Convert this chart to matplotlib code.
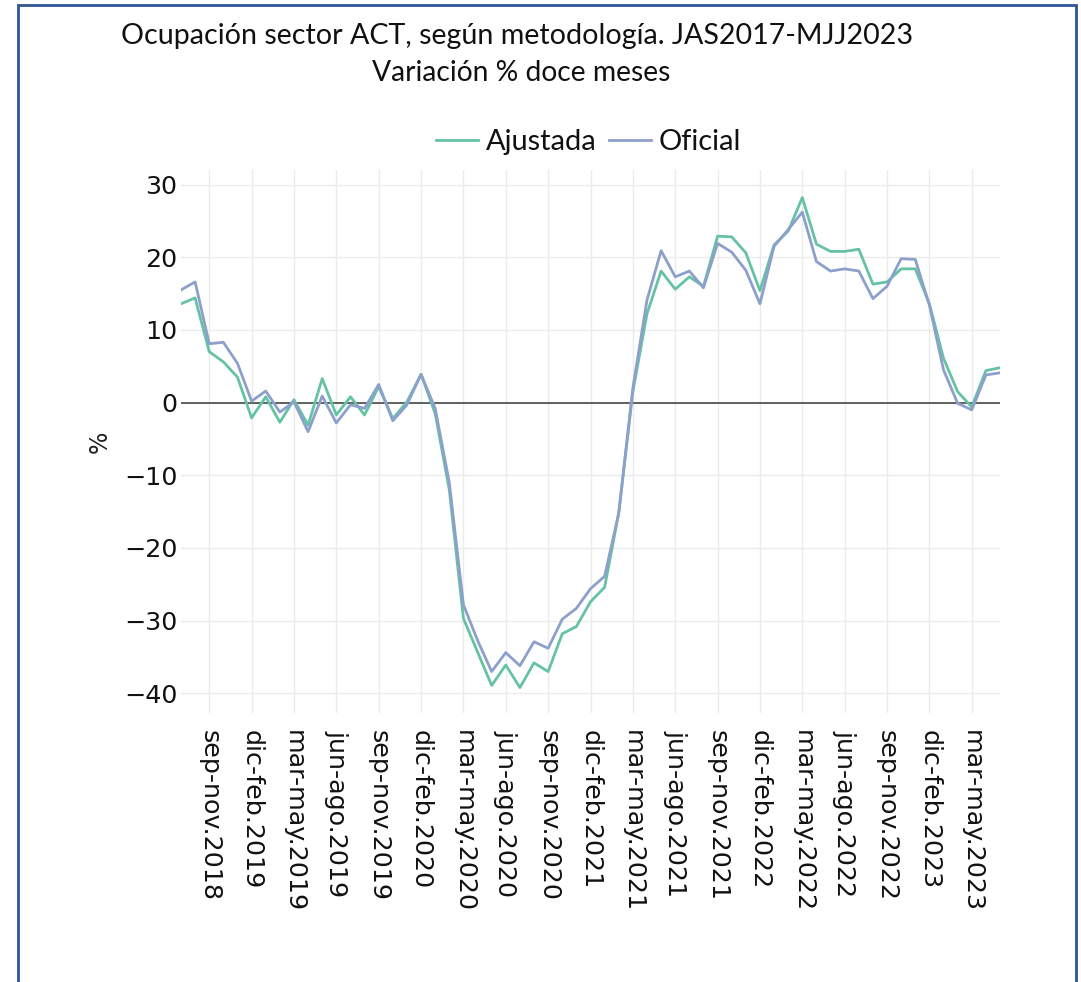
import matplotlib
matplotlib.use("Agg")
import matplotlib.pyplot as plt
import matplotlib.patches as patches
import numpy as np

# ---- data ----
month_abbr = ['ene', 'feb', 'mar', 'abr', 'may', 'jun', 'jul', 'ago', 'sep', 'oct', 'nov', 'dic']
start_month = 6      # jul
start_year = 2018
n_points = 59        # jul-sep.2018 ... may-jul.2023

ajustada = [13.6, 14.4, 7.0, 5.6, 3.5, -2.1, 0.8, -2.7, 0.4, -3.1,
            3.3, -1.7, 0.8, -1.7, 2.2, -2.2, 0.1, 3.9, -1.5, -12.0,
            -29.7, -34.3, -38.9, -36.1, -39.2, -35.8, -37.0, -31.8, -30.8, -27.4,
            -25.4, -15.2, 1.5, 12.2, 18.1, 15.6, 17.3, 16.0, 22.9, 22.8,
            20.6, 15.4, 21.7, 23.6, 28.2, 21.8, 20.8, 20.8, 21.1, 16.3,
            16.6, 18.4, 18.4, 13.6, 6.1, 1.5, -0.6, 4.4, 4.8]
oficial = [15.5, 16.6, 8.1, 8.3, 5.4, 0.2, 1.6, -1.3, 0.1, -4.0,
           0.9, -2.8, -0.3, -0.8, 2.5, -2.5, -0.3, 3.9, -0.8, -11.0,
           -27.8, -32.7, -37.0, -34.4, -36.2, -32.9, -33.8, -29.8, -28.3, -25.6,
           -23.9, -15.2, 2.0, 14.1, 20.9, 17.3, 18.1, 15.8, 21.9, 20.7,
           18.2, 13.6, 21.5, 23.8, 26.2, 19.4, 18.1, 18.4, 18.1, 14.3,
           16.0, 19.8, 19.7, 13.4, 4.5, -0.1, -1.0, 3.8, 4.1]

categories = []
for k in range(n_points):
    m = (start_month + k) % 12
    y = start_year + (start_month + k) // 12
    m_end = (m + 2) % 12
    y_end = y + (1 if m + 2 >= 12 else 0)
    categories.append(f"{month_abbr[m]}-{month_abbr[m_end]}.{y_end}")

tick_idx = list(range(2, n_points, 3))
tick_labels = [categories[i] for i in tick_idx]
y_ticks = [30, 20, 10, 0, -10, -20, -30, -40]

title1 = "Ocupación sector ACT, según metodología. JAS2017-MJJ2023"
title2 = "Variación % doce meses"

# ---- figure ----
W, H = 1081, 982
fig = plt.figure(figsize=(W / 100, H / 100), dpi=100, facecolor='white')
ax = fig.add_axes([181 / W, 1 - 713 / H, (1000 - 181) / W, (713 - 170) / H])

green = '#66c2a5'
blue = '#8da0cb'
x = np.arange(n_points)
l1, = ax.plot(x, ajustada, color=green, lw=2.0, label='Ajustada', zorder=3)
l2, = ax.plot(x, oficial, color=blue, lw=2.0, label='Oficial', zorder=3)

ax.set_xlim(0, n_points - 1)
ax.set_ylim(-42.7, 32.0)
ax.axhline(0, color='#555555', lw=1.3, zorder=2)

ax.set_xticks(tick_idx)
ax.set_xticklabels(tick_labels, rotation=-90, va='top', ha='center')
ax.set_yticks(y_ticks)
ax.set_yticklabels([f"{v}".replace('-', '\u2212') for v in y_ticks])
ax.tick_params(axis='x', length=0, pad=12, labelsize=18.3, colors='#111111')
ax.tick_params(axis='y', length=0, pad=2.5, labelsize=18.3, colors='#111111')
ax.grid(True, color='#ebebeb', lw=1.0, zorder=0)
for s in ax.spines.values():
    s.set_visible(False)

ax.set_ylabel('%', fontsize=17, color='#222222')
ax.yaxis.set_label_coords((112 - 181) / 819, 0.5)

# border
fig.patches.append(patches.Rectangle((18 / W, -0.05), (1076 - 18) / W, 1.05 - 5 / H,
                                     transform=fig.transFigure, fill=False,
                                     edgecolor='#2F5597', lw=2.0, zorder=10))

# titles
t1 = fig.text(517 / W, 1 - 36 / H, title1, ha='center', va='center',
              fontsize=20, family='Lato', color='#111111')
t2 = fig.text(521 / W, 1 - 73 / H, title2, ha='center', va='center',
              fontsize=20, family='Lato', color='#111111')

fig.canvas.draw()
r = fig.canvas.get_renderer()
for t, target in ((t1, 792), (t2, 299)):
    w = t.get_window_extent(r).width
    t.set_fontsize(t.get_fontsize() * target / w)

# legend
leg_fs = 20
leg = fig.legend(handles=[l1, l2], loc='center left', bbox_to_anchor=(436 / W, 1 - 142 / H),
                 ncol=2, frameon=False, prop={'family': 'Lato', 'size': leg_fs},
                 handlelength=42 / (leg_fs * 100 / 72), handletextpad=8 / (leg_fs * 100 / 72),
                 columnspacing=12 / (leg_fs * 100 / 72), borderpad=0, borderaxespad=0)
fig.canvas.draw()
w = leg.get_texts()[0].get_window_extent(r).width
leg_fs = leg_fs * 111 / w
leg.remove()
fpx = leg_fs * 100 / 72
leg = fig.legend(handles=[l1, l2], loc='center left', bbox_to_anchor=(436 / W, 1 - 142 / H),
                 ncol=2, frameon=False, prop={'family': 'Lato', 'size': leg_fs},
                 handlelength=42 / fpx, handletextpad=8 / fpx,
                 columnspacing=12 / fpx, borderpad=0, borderaxespad=0)
for t in leg.get_texts():
    t.set_color('#111111')

fig.savefig('out.png', dpi=100, facecolor='white')
